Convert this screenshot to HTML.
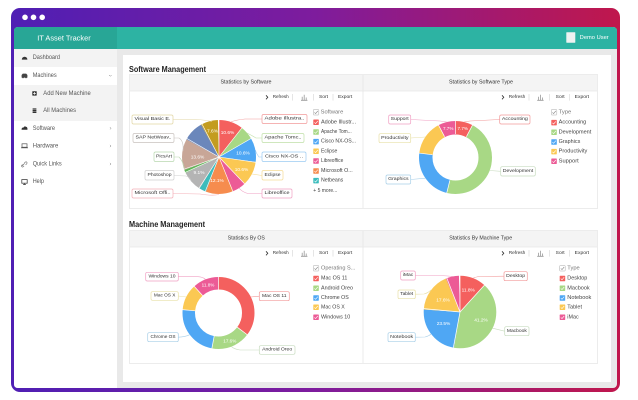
<!DOCTYPE html>
<html><head><meta charset="utf-8"><style>
html,body{margin:0;padding:0;background:#fff;width:638px;height:400px;overflow:hidden}
svg{display:block}
text{font-family:"Liberation Sans",sans-serif}
</style></head><body>
<svg width="638" height="400" viewBox="0 0 638 400" xmlns="http://www.w3.org/2000/svg">
<defs>
<linearGradient id="fr" x1="0" y1="0" x2="1" y2="0">
<stop offset="0" stop-color="#4f1fb4"/><stop offset="0.5" stop-color="#7e1c9d"/><stop offset="1" stop-color="#c0174c"/>
</linearGradient>
</defs>
<!-- frame -->
<rect x="11" y="8" width="609" height="384" rx="9" fill="url(#fr)"/>
<circle cx="25" cy="17.3" r="2.8" fill="#fff"/><circle cx="33.5" cy="17.3" r="2.8" fill="#fff"/><circle cx="42.2" cy="17.3" r="2.8" fill="#fff"/>
<rect x="14" y="27" width="603" height="361" rx="4" fill="#e9e9e9"/>
<!-- header -->
<path d="M18,27 H117 V49 H14 V31 Q14,27 18,27Z" fill="#28a696"/>
<path d="M117,27 H613 Q617,27 617,31 V49 H117Z" fill="#2db3a3"/>
<text x="37.3" y="38.2" font-size="7.6" fill="#fff" dominant-baseline="central" textLength="53.4" lengthAdjust="spacingAndGlyphs">IT Asset Tracker</text>
<rect x="566.3" y="32.3" width="9" height="10.4" fill="#eef2f1" rx="0.5"/>
<text x="579.7" y="38" font-size="5.6" fill="#fff" dominant-baseline="central" textLength="29" lengthAdjust="spacingAndGlyphs">Demo User</text>
<!-- sidebar -->
<path d="M14,49 H117 V388 H18 Q14,388 14,384Z" fill="#fff"/>
<rect x="14" y="49" width="103" height="18" fill="#f3f3f3"/>
<rect x="14" y="85" width="103" height="36" fill="#f3f3f3"/>
<g font-size="6.3" fill="#555" dominant-baseline="central">
<text x="32.7" y="57.7" textLength="27.3" lengthAdjust="spacingAndGlyphs">Dashboard</text>
<text x="32.7" y="75.7" textLength="24" lengthAdjust="spacingAndGlyphs">Machines</text>
<text x="43.3" y="93.3" textLength="47.4" lengthAdjust="spacingAndGlyphs">Add New Machine</text>
<text x="43.3" y="110.7" textLength="32.7" lengthAdjust="spacingAndGlyphs">All Machines</text>
<text x="32.7" y="128.3" textLength="22.3" lengthAdjust="spacingAndGlyphs">Software</text>
<text x="32.7" y="146" textLength="25.6" lengthAdjust="spacingAndGlyphs">Hardware</text>
<text x="32.7" y="164" textLength="29" lengthAdjust="spacingAndGlyphs">Quick Links</text>
<text x="32.7" y="181.7" textLength="11.3" lengthAdjust="spacingAndGlyphs">Help</text>
</g>
<!-- sidebar icons -->
<path d="M21.8,59.6 A2.8,2.8 0 1 1 27.4,59.6 Z" fill="#333"/>
<path d="M21.6,77.6 V75 L22.8,73.6 H26.2 L27.4,75 V77.6Z" fill="#444"/><circle cx="23" cy="77.6" r="0.7" fill="#444"/><circle cx="26" cy="77.6" r="0.7" fill="#444"/>
<rect x="32.3" y="91.2" width="4.4" height="4.4" fill="#333" rx="0.4"/><path d="M34.5,92 v2.8 M33.1,93.4 h2.8" stroke="#fff" stroke-width="0.7"/>
<path d="M32.6,109 h3.8 M32.6,110.7 h3.8 M32.6,112.4 h3.8" stroke="#333" stroke-width="1.3"/>
<path d="M21.6,129.8 Q21.4,127.3 23.6,127.5 Q24.4,125.8 26,126.8 Q27.8,127 27.4,129.8Z" fill="#333"/>
<rect x="22" y="143.8" width="5" height="3.4" fill="none" stroke="#555" stroke-width="0.7"/><path d="M21,147.8 h7" stroke="#555" stroke-width="0.8"/>
<path d="M22.2,166 l2.2,-2.4 M24,163.4 l1.2,-1.2 q0.9,-0.8 1.6,0 q0.7,0.7 0,1.5 l-1.2,1.2 M22.6,164.4 l-0.8,0.8 q-0.7,0.8 0,1.5 q0.7,0.7 1.5,0 l0.8,-0.8" stroke="#666" stroke-width="0.6" fill="none"/>
<rect x="21.8" y="179.6" width="5.4" height="3.6" fill="none" stroke="#444" stroke-width="0.8"/><path d="M24.5,183.2 v1.2 M23,184.6 h3" stroke="#444" stroke-width="0.7"/>
<path d="M109,75 l1.3,1.3 l1.3,-1.3" stroke="#777" stroke-width="0.5" fill="none"/>
<path d="M110,127.2 l1,1.1 l-1,1.1 M110,144.9 l1,1.1 l-1,1.1 M110,162.9 l1,1.1 l-1,1.1" stroke="#777" stroke-width="0.5" fill="none"/>
<!-- content -->
<rect x="123" y="55" width="488" height="327" fill="#fff"/>
<text x="129" y="69.3" font-size="8.2" font-weight="bold" fill="#222" dominant-baseline="central" textLength="77" lengthAdjust="spacingAndGlyphs">Software Management</text>
<text x="129" y="224.5" font-size="8.2" font-weight="bold" fill="#222" dominant-baseline="central" textLength="76" lengthAdjust="spacingAndGlyphs">Machine Management</text>
<!-- panels -->
<g fill="none" stroke="#e8e8e8" stroke-width="0.8">
<rect x="129.5" y="74.5" width="468" height="134" />
<rect x="129.5" y="230.5" width="468" height="133" />
</g>
<rect x="130" y="75" width="467" height="16" fill="#f4f4f4"/>
<rect x="130" y="231" width="467" height="16" fill="#f4f4f4"/>
<path d="M130,91 H597 M130,247 H597 M363,75 V208 M363,231 V363" stroke="#e6e6e6" stroke-width="0.8"/>
<g font-size="5.4" fill="#333" dominant-baseline="central" text-anchor="middle">
<text x="246" y="82.5" textLength="51" lengthAdjust="spacingAndGlyphs">Statistics by Software</text>
<text x="481" y="82.5" textLength="64" lengthAdjust="spacingAndGlyphs">Statistics by Software Type</text>
<text x="246.3" y="238.5" textLength="37" lengthAdjust="spacingAndGlyphs">Statistics By OS</text>
<text x="480.7" y="238.5" textLength="63" lengthAdjust="spacingAndGlyphs">Statistics By Machine Type</text>
</g>
<!-- toolbars -->
<g font-size="4.8" fill="#333" dominant-baseline="central">
<text x="272.7" y="97.3" textLength="16" lengthAdjust="spacingAndGlyphs">Refresh</text>
<text x="319" y="97.3" textLength="9" lengthAdjust="spacingAndGlyphs">Sort</text>
<text x="338" y="97.3" textLength="14.3" lengthAdjust="spacingAndGlyphs">Export</text>
<text x="508.7" y="97.3" textLength="16.6" lengthAdjust="spacingAndGlyphs">Refresh</text>
<text x="555.7" y="97.3" textLength="9" lengthAdjust="spacingAndGlyphs">Sort</text>
<text x="574.7" y="97.3" textLength="14.3" lengthAdjust="spacingAndGlyphs">Export</text>
<text x="272.7" y="253.3" textLength="16" lengthAdjust="spacingAndGlyphs">Refresh</text>
<text x="319" y="253.3" textLength="9" lengthAdjust="spacingAndGlyphs">Sort</text>
<text x="338" y="253.3" textLength="14.3" lengthAdjust="spacingAndGlyphs">Export</text>
<text x="508.7" y="253.3" textLength="16.6" lengthAdjust="spacingAndGlyphs">Refresh</text>
<text x="555.7" y="253.3" textLength="9" lengthAdjust="spacingAndGlyphs">Sort</text>
<text x="574.7" y="253.3" textLength="14.3" lengthAdjust="spacingAndGlyphs">Export</text>
</g>
<g stroke="#333" stroke-width="0.8" fill="none">
<path d="M266,95.3 l1.8,2 l-1.8,2 M502,95.3 l1.8,2 l-1.8,2 M266,251.3 l1.8,2 l-1.8,2 M502,251.3 l1.8,2 l-1.8,2"/>
</g>
<g stroke="#ccc" stroke-width="0.5">
<path d="M292.3,94 v6.6 M313.3,94 v6.6 M333,94 v6.6 M529,94 v6.6 M549.7,94 v6.6 M569.7,94 v6.6"/>
<path d="M292.3,250 v6.6 M313.3,250 v6.6 M333,250 v6.6 M529,250 v6.6 M549.7,250 v6.6 M569.7,250 v6.6"/>
</g>
<g stroke="#999" stroke-width="0.8" fill="none">
<path d="M301,100.3 h6.4 M302.2,100.3 v-3.6 M304.2,100.3 v-5.6 M306.2,100.3 v-2.8"/>
<path d="M537.2,100.3 h6.4 M538.4,100.3 v-3.6 M540.4,100.3 v-5.6 M542.4,100.3 v-2.8"/>
<path d="M301,256.3 h6.4 M302.2,256.3 v-3.6 M304.2,256.3 v-5.6 M306.2,256.3 v-2.8"/>
<path d="M537.2,256.3 h6.4 M538.4,256.3 v-3.6 M540.4,256.3 v-5.6 M542.4,256.3 v-2.8"/>
</g>

<!-- ============ Software pie ============ -->
<g transform="rotate(-90 219 157)" fill="none" stroke-width="37">
<circle cx="219" cy="157" r="18.5" pathLength="100" stroke="#f4605e" stroke-dasharray="10.606 100" stroke-dashoffset="0"/>
<circle cx="219" cy="157" r="18.5" pathLength="100" stroke="#a8d885" stroke-dasharray="6.061 100" stroke-dashoffset="-10.606"/>
<circle cx="219" cy="157" r="18.5" pathLength="100" stroke="#4fa7f4" stroke-dasharray="10.606 100" stroke-dashoffset="-16.667"/>
<circle cx="219" cy="157" r="18.5" pathLength="100" stroke="#fbc853" stroke-dasharray="10.606 100" stroke-dashoffset="-27.273"/>
<circle cx="219" cy="157" r="18.5" pathLength="100" stroke="#ec5b96" stroke-dasharray="6.061 100" stroke-dashoffset="-37.879"/>
<circle cx="219" cy="157" r="18.5" pathLength="100" stroke="#f68c4e" stroke-dasharray="12.121 100" stroke-dashoffset="-43.939"/>
<circle cx="219" cy="157" r="18.5" pathLength="100" stroke="#3bbcbc" stroke-dasharray="3.030 100" stroke-dashoffset="-56.061"/>
<circle cx="219" cy="157" r="18.5" pathLength="100" stroke="#b4b4b4" stroke-dasharray="9.091 100" stroke-dashoffset="-59.091"/>
<circle cx="219" cy="157" r="18.5" pathLength="100" stroke="#5fb558" stroke-dasharray="1.515 100" stroke-dashoffset="-68.182"/>
<circle cx="219" cy="157" r="18.5" pathLength="100" stroke="#c8a697" stroke-dasharray="13.636 100" stroke-dashoffset="-69.697"/>
<circle cx="219" cy="157" r="18.5" pathLength="100" stroke="#6b87bb" stroke-dasharray="9.091 100" stroke-dashoffset="-83.333"/>
<circle cx="219" cy="157" r="18.5" pathLength="100" stroke="#c39c1f" stroke-dasharray="7.576 100" stroke-dashoffset="-92.424"/>
</g>
<g stroke="#fff" stroke-width="0.6">
<line x1="219" y1="157" x2="219" y2="119.5" transform="rotate(0 219 157)"/>
<line x1="219" y1="157" x2="219" y2="119.5" transform="rotate(38.18 219 157)"/>
<line x1="219" y1="157" x2="219" y2="119.5" transform="rotate(60 219 157)"/>
<line x1="219" y1="157" x2="219" y2="119.5" transform="rotate(98.18 219 157)"/>
<line x1="219" y1="157" x2="219" y2="119.5" transform="rotate(136.36 219 157)"/>
<line x1="219" y1="157" x2="219" y2="119.5" transform="rotate(158.18 219 157)"/>
<line x1="219" y1="157" x2="219" y2="119.5" transform="rotate(201.82 219 157)"/>
<line x1="219" y1="157" x2="219" y2="119.5" transform="rotate(212.73 219 157)"/>
<line x1="219" y1="157" x2="219" y2="119.5" transform="rotate(245.45 219 157)"/>
<line x1="219" y1="157" x2="219" y2="119.5" transform="rotate(250.91 219 157)"/>
<line x1="219" y1="157" x2="219" y2="119.5" transform="rotate(300 219 157)"/>
<line x1="219" y1="157" x2="219" y2="119.5" transform="rotate(332.73 219 157)"/>
</g>
<g font-size="4.8" fill="#fff" text-anchor="middle" dominant-baseline="central">
<text x="227.5" y="133.4">10.6%</text>
<text x="243" y="154">10.6%</text>
<text x="241.5" y="170.5">10.6%</text>
<text x="217" y="181.5">12.1%</text>
<text x="199" y="173.5">9.1%</text>
<text x="197.5" y="158">13.6%</text>
<text x="212.5" y="131.8">7.6%</text>
</g>
<!-- connectors software -->
<g fill="none" stroke-width="0.6">
<path d="M173,119.5 L196,119.5 Q206,120 212,121.5" stroke="#e2d6a4"/>
<path d="M174,138 L179,138 Q184,141 183,151" stroke="#c9c2bf"/>
<path d="M174,157 L179,157 Q183,161 184.5,169" stroke="#b9d8b0"/>
<path d="M174,175.5 L186,176 Q190,177 191,181" stroke="#cfcfcf"/>
<path d="M173,193.5 L200,194 Q212,196 219,194.5" stroke="#f4b0b8"/>
<path d="M262,119 L245,119 Q235,120 231,122" stroke="#f29a9a"/>
<path d="M262,138 L256,138 Q251,135 247,133" stroke="#c0e0a8"/>
<path d="M262,157 L259,157 Q256,153 255.5,150" stroke="#9ccbf2"/>
<path d="M262,175.5 L252,174" stroke="#f5dc96"/>
<path d="M262,193.5 L248,193.5 Q242,192 239,188" stroke="#f0a0c4"/>
</g>
<g stroke-width="0.7" fill="#fff">
<rect x="132" y="115" width="41" height="9" rx="1.5" stroke="#e2d6a4"/>
<rect x="133" y="133.5" width="41" height="9" rx="1.5" stroke="#c9c2bf"/>
<rect x="154" y="152" width="20" height="9.5" rx="1.5" stroke="#b9d8b0"/>
<rect x="145" y="170.5" width="29" height="9.5" rx="1.5" stroke="#cfcfcf"/>
<rect x="132" y="189" width="41" height="9" rx="1.5" stroke="#f4b0b8"/>
<rect x="262" y="114.5" width="45" height="9" rx="1.5" stroke="#f29a9a"/>
<rect x="262" y="133.5" width="42" height="9" rx="1.5" stroke="#c0e0a8"/>
<rect x="262" y="152" width="44" height="9.5" rx="1.5" stroke="#9ccbf2"/>
<rect x="262" y="170.5" width="21" height="9.5" rx="1.5" stroke="#f5dc96"/>
<rect x="262" y="189" width="30" height="9" rx="1.5" stroke="#f0a0c4"/>
</g>
<g font-size="4.9" fill="#333" dominant-baseline="central" text-anchor="middle" lengthAdjust="spacingAndGlyphs">
<text x="152.5" y="119.6" textLength="36" lengthAdjust="spacingAndGlyphs">Visual Basic E.</text>
<text x="153.5" y="138.1" textLength="36" lengthAdjust="spacingAndGlyphs">SAP NetWeav..</text>
<text x="164" y="156.8" textLength="16" lengthAdjust="spacingAndGlyphs">PicsArt</text>
<text x="159.5" y="175.3" textLength="24" lengthAdjust="spacingAndGlyphs">Photoshop</text>
<text x="152.5" y="193.6" textLength="36" lengthAdjust="spacingAndGlyphs">Microsoft Offi..</text>
<text x="284.5" y="119.1" textLength="40" lengthAdjust="spacingAndGlyphs">Adobe Illustra..</text>
<text x="283" y="138.1" textLength="37" lengthAdjust="spacingAndGlyphs">Apache Tomc..</text>
<text x="284" y="156.8" textLength="38" lengthAdjust="spacingAndGlyphs">Cisco NX-OS ..</text>
<text x="272.5" y="175.3" textLength="16" lengthAdjust="spacingAndGlyphs">Eclipse</text>
<text x="277" y="193.6" textLength="25" lengthAdjust="spacingAndGlyphs">Libreoffice</text>
</g>
<!-- legend software -->
<g>
<rect x="313.3" y="109.5" width="5.5" height="5.5" rx="0.6" fill="#fff" stroke="#aaa" stroke-width="0.5"/>
<rect x="313.3" y="119.5" width="5.5" height="5.5" rx="0.6" fill="#f4605e"/>
<rect x="313.3" y="129.2" width="5.5" height="5.5" rx="0.6" fill="#a8d885"/>
<rect x="313.3" y="138.9" width="5.5" height="5.5" rx="0.6" fill="#4fa7f4"/>
<rect x="313.3" y="148.5" width="5.5" height="5.5" rx="0.6" fill="#fbc853"/>
<rect x="313.3" y="158.2" width="5.5" height="5.5" rx="0.6" fill="#ec5b96"/>
<rect x="313.3" y="168.2" width="5.5" height="5.5" rx="0.6" fill="#f68c4e"/>
<rect x="313.3" y="177.9" width="5.5" height="5.5" rx="0.6" fill="#3bbcbc"/>
</g>
<g fill="none" stroke="#fff" stroke-width="0.6">
<path d="M314.4,112.4 l1.2,1.2 l2.2,-2.6" stroke="#888"/>
<path d="M314.4,122.4 l1.2,1.2 l2.2,-2.6 M314.4,132.1 l1.2,1.2 l2.2,-2.6 M314.4,141.8 l1.2,1.2 l2.2,-2.6 M314.4,151.4 l1.2,1.2 l2.2,-2.6 M314.4,161.1 l1.2,1.2 l2.2,-2.6 M314.4,171.1 l1.2,1.2 l2.2,-2.6 M314.4,180.8 l1.2,1.2 l2.2,-2.6"/>
</g>
<g font-size="5.2" fill="#444" dominant-baseline="central">
<text x="320.7" y="112.3" fill="#777" textLength="22.6" lengthAdjust="spacingAndGlyphs">Software</text>
<text x="321" y="122.3" textLength="35" lengthAdjust="spacingAndGlyphs">Adobe Illustr...</text>
<text x="321" y="132" textLength="30.7" lengthAdjust="spacingAndGlyphs">Apache Tom...</text>
<text x="321" y="141.7" textLength="35" lengthAdjust="spacingAndGlyphs">Cisco NX-OS...</text>
<text x="321" y="151.3" textLength="16.3" lengthAdjust="spacingAndGlyphs">Eclipse</text>
<text x="321" y="161" textLength="22.3" lengthAdjust="spacingAndGlyphs">Libreoffice</text>
<text x="321" y="171" textLength="31.7" lengthAdjust="spacingAndGlyphs">Microsoft O...</text>
<text x="321" y="180.7" textLength="22.3" lengthAdjust="spacingAndGlyphs">Netbeans</text>
<text x="313.3" y="191" textLength="24" lengthAdjust="spacingAndGlyphs">+ 5 more...</text>
</g>

<!-- ============ Software type donut ============ -->
<g transform="rotate(-90 455.5 157.5)" fill="none" stroke-width="13.5">
<circle cx="455.5" cy="157.5" r="29.75" pathLength="100" stroke="#f4605e" stroke-dasharray="7.692 100" stroke-dashoffset="0"/>
<circle cx="455.5" cy="157.5" r="29.75" pathLength="100" stroke="#a8d885" stroke-dasharray="46.154 100" stroke-dashoffset="-7.692"/>
<circle cx="455.5" cy="157.5" r="29.75" pathLength="100" stroke="#4fa7f4" stroke-dasharray="23.077 100" stroke-dashoffset="-53.846"/>
<circle cx="455.5" cy="157.5" r="29.75" pathLength="100" stroke="#fbc853" stroke-dasharray="15.385 100" stroke-dashoffset="-76.923"/>
<circle cx="455.5" cy="157.5" r="29.75" pathLength="100" stroke="#ec5b96" stroke-dasharray="7.692 100" stroke-dashoffset="-92.308"/>
</g>
<g stroke="#fff" stroke-width="0.7">
<line x1="455.5" y1="134" x2="455.5" y2="120.5" transform="rotate(0 455.5 157.5)"/>
<line x1="455.5" y1="134" x2="455.5" y2="120.5" transform="rotate(27.69 455.5 157.5)"/>
<line x1="455.5" y1="134" x2="455.5" y2="120.5" transform="rotate(193.85 455.5 157.5)"/>
<line x1="455.5" y1="134" x2="455.5" y2="120.5" transform="rotate(276.92 455.5 157.5)"/>
<line x1="455.5" y1="134" x2="455.5" y2="120.5" transform="rotate(332.31 455.5 157.5)"/>
</g>
<g font-size="4.6" fill="#fff" text-anchor="middle" dominant-baseline="central">
<text x="462.8" y="128.5">7.7%</text>
<text x="448.2" y="128.5">7.7%</text>
</g>
<g fill="none" stroke-width="0.6">
<path d="M410.7,119.5 L440,121 L446.8,122" stroke="#f0a0c4"/>
<path d="M499.7,119.5 L470,121 L464,122" stroke="#f29a9a"/>
<path d="M410.7,138 L425.5,137" stroke="#e8e0a8"/>
<path d="M500.7,171.3 L489.6,170.5" stroke="#c8dcc0"/>
<path d="M410.7,179.5 L425.4,178.2" stroke="#a8cfe8"/>
</g>
<g stroke-width="0.7" fill="#fff">
<rect x="388.7" y="115" width="22" height="9" rx="1.5" stroke="#f0a0c4"/>
<rect x="499.7" y="115" width="30.3" height="9" rx="1.5" stroke="#f29a9a"/>
<rect x="379" y="133.7" width="31.7" height="9" rx="1.5" stroke="#e8e0a8"/>
<rect x="500.7" y="166.7" width="34.6" height="9.3" rx="1.5" stroke="#c8dcc0"/>
<rect x="386" y="175" width="24.7" height="9" rx="1.5" stroke="#a8cfe8"/>
</g>
<g font-size="4.9" fill="#333" dominant-baseline="central" text-anchor="middle">
<text x="399.7" y="119.6" textLength="18" lengthAdjust="spacingAndGlyphs">Support</text>
<text x="514.85" y="119.6" textLength="26" lengthAdjust="spacingAndGlyphs">Accounting</text>
<text x="394.85" y="138.3" textLength="27.5" lengthAdjust="spacingAndGlyphs">Productivity</text>
<text x="518" y="171.4" textLength="30.5" lengthAdjust="spacingAndGlyphs">Development</text>
<text x="398.35" y="179.6" textLength="20.5" lengthAdjust="spacingAndGlyphs">Graphics</text>
</g>
<g>
<rect x="551.3" y="109.5" width="5.5" height="5.5" rx="0.6" fill="#fff" stroke="#aaa" stroke-width="0.5"/>
<rect x="551.3" y="119.9" width="5.5" height="5.5" rx="0.6" fill="#f4605e"/>
<rect x="551.3" y="129.5" width="5.5" height="5.5" rx="0.6" fill="#a8d885"/>
<rect x="551.3" y="139.2" width="5.5" height="5.5" rx="0.6" fill="#4fa7f4"/>
<rect x="551.3" y="148.9" width="5.5" height="5.5" rx="0.6" fill="#fbc853"/>
<rect x="551.3" y="158.5" width="5.5" height="5.5" rx="0.6" fill="#ec5b96"/>
</g>
<g fill="none" stroke="#fff" stroke-width="0.6">
<path d="M552.4,112.4 l1.2,1.2 l2.2,-2.6" stroke="#888"/>
<path d="M552.4,122.8 l1.2,1.2 l2.2,-2.6 M552.4,132.4 l1.2,1.2 l2.2,-2.6 M552.4,142.1 l1.2,1.2 l2.2,-2.6 M552.4,151.8 l1.2,1.2 l2.2,-2.6 M552.4,161.4 l1.2,1.2 l2.2,-2.6"/>
</g>
<g font-size="5.2" fill="#444" dominant-baseline="central">
<text x="558.7" y="112.3" fill="#777" textLength="12.6" lengthAdjust="spacingAndGlyphs">Type</text>
<text x="558.7" y="122.7" textLength="27.6" lengthAdjust="spacingAndGlyphs">Accounting</text>
<text x="558.7" y="132.3" textLength="32.6" lengthAdjust="spacingAndGlyphs">Development</text>
<text x="558.7" y="142" textLength="21.6" lengthAdjust="spacingAndGlyphs">Graphics</text>
<text x="558.7" y="151.7" textLength="28.6" lengthAdjust="spacingAndGlyphs">Productivity</text>
<text x="558.7" y="161.3" textLength="20" lengthAdjust="spacingAndGlyphs">Support</text>
</g>

<!-- ============ OS donut ============ -->
<g transform="rotate(-90 218.5 313)" fill="none" stroke-width="12.5">
<circle cx="218.5" cy="313" r="29.75" pathLength="100" stroke="#f4605e" stroke-dasharray="35.294 100" stroke-dashoffset="0"/>
<circle cx="218.5" cy="313" r="29.75" pathLength="100" stroke="#a8d885" stroke-dasharray="17.647 100" stroke-dashoffset="-35.294"/>
<circle cx="218.5" cy="313" r="29.75" pathLength="100" stroke="#4fa7f4" stroke-dasharray="23.529 100" stroke-dashoffset="-52.941"/>
<circle cx="218.5" cy="313" r="29.75" pathLength="100" stroke="#fbc853" stroke-dasharray="11.765 100" stroke-dashoffset="-76.471"/>
<circle cx="218.5" cy="313" r="29.75" pathLength="100" stroke="#ec5b96" stroke-dasharray="11.765 100" stroke-dashoffset="-88.235"/>
</g>
<g stroke="#fff" stroke-width="0.7">
<line x1="218.5" y1="289.5" x2="218.5" y2="276.5" transform="rotate(0 218.5 313)"/>
<line x1="218.5" y1="289.5" x2="218.5" y2="276.5" transform="rotate(127.06 218.5 313)"/>
<line x1="218.5" y1="289.5" x2="218.5" y2="276.5" transform="rotate(190.59 218.5 313)"/>
<line x1="218.5" y1="289.5" x2="218.5" y2="276.5" transform="rotate(275.29 218.5 313)"/>
<line x1="218.5" y1="289.5" x2="218.5" y2="276.5" transform="rotate(317.65 218.5 313)"/>
</g>
<g font-size="4.6" fill="#fff" text-anchor="middle" dominant-baseline="central">
<text x="208" y="285.2">11.8%</text>
<text x="229.8" y="341.2">17.6%</text>
</g>
<g fill="none" stroke-width="0.6">
<path d="M178.3,276.7 L198,276.7 Q203,277 205.5,279.4" stroke="#f0a0c4"/>
<path d="M178.3,296 L186.3,297" stroke="#e8e0a8"/>
<path d="M178.3,337.2 Q185,337 189.8,334.7" stroke="#a8cfe8"/>
<path d="M259.3,296.2 L250.7,297" stroke="#f29a9a"/>
<path d="M259.3,350 L240,350 Q234,349 231.5,346.6" stroke="#c8dcc0"/>
</g>
<g stroke-width="0.7" fill="#fff">
<rect x="145.7" y="272.3" width="32.6" height="8.7" rx="1.5" stroke="#f0a0c4"/>
<rect x="151" y="291.7" width="27.3" height="8.6" rx="1.5" stroke="#e8e0a8"/>
<rect x="147.7" y="332.7" width="30.6" height="9" rx="1.5" stroke="#a8cfe8"/>
<rect x="259.3" y="291.7" width="30" height="9" rx="1.5" stroke="#f29a9a"/>
<rect x="259.3" y="345.7" width="35.7" height="8.6" rx="1.5" stroke="#c8dcc0"/>
</g>
<g font-size="4.9" fill="#333" dominant-baseline="central" text-anchor="middle">
<text x="162" y="276.8" textLength="27" lengthAdjust="spacingAndGlyphs">Windows 10</text>
<text x="164.65" y="296.1" textLength="21.5" lengthAdjust="spacingAndGlyphs">Mac OS X</text>
<text x="163" y="337.3" textLength="25" lengthAdjust="spacingAndGlyphs">Chrome OS</text>
<text x="274.3" y="296.3" textLength="24.5" lengthAdjust="spacingAndGlyphs">Mac OS 11</text>
<text x="277.15" y="350.1" textLength="30" lengthAdjust="spacingAndGlyphs">Android Oreo</text>
</g>
<g>
<rect x="313.3" y="265.5" width="5.5" height="5.5" rx="0.6" fill="#fff" stroke="#aaa" stroke-width="0.5"/>
<rect x="313.3" y="275.7" width="5.5" height="5.5" rx="0.6" fill="#f4605e"/>
<rect x="313.3" y="285.5" width="5.5" height="5.5" rx="0.6" fill="#a8d885"/>
<rect x="313.3" y="295.2" width="5.5" height="5.5" rx="0.6" fill="#4fa7f4"/>
<rect x="313.3" y="304.5" width="5.5" height="5.5" rx="0.6" fill="#fbc853"/>
<rect x="313.3" y="314.5" width="5.5" height="5.5" rx="0.6" fill="#ec5b96"/>
</g>
<g fill="none" stroke="#fff" stroke-width="0.6">
<path d="M314.4,268.4 l1.2,1.2 l2.2,-2.6" stroke="#888"/>
<path d="M314.4,278.6 l1.2,1.2 l2.2,-2.6 M314.4,288.4 l1.2,1.2 l2.2,-2.6 M314.4,298.1 l1.2,1.2 l2.2,-2.6 M314.4,307.4 l1.2,1.2 l2.2,-2.6 M314.4,317.4 l1.2,1.2 l2.2,-2.6"/>
</g>
<g font-size="5.2" fill="#444" dominant-baseline="central">
<text x="321" y="268.3" fill="#777" textLength="34.3" lengthAdjust="spacingAndGlyphs">Operating S...</text>
<text x="321" y="278.5" textLength="26.3" lengthAdjust="spacingAndGlyphs">Mac OS 11</text>
<text x="321" y="288.3" textLength="32" lengthAdjust="spacingAndGlyphs">Android Oreo</text>
<text x="321" y="298" textLength="27.7" lengthAdjust="spacingAndGlyphs">Chrome OS</text>
<text x="321" y="307.3" textLength="23.7" lengthAdjust="spacingAndGlyphs">Mac OS X</text>
<text x="321" y="317.3" textLength="29.3" lengthAdjust="spacingAndGlyphs">Windows 10</text>
</g>

<!-- ============ Machine type pie ============ -->
<g transform="rotate(-90 460 312)" fill="none" stroke-width="36.3">
<circle cx="460" cy="312" r="18.15" pathLength="100" stroke="#f4605e" stroke-dasharray="11.765 100" stroke-dashoffset="0"/>
<circle cx="460" cy="312" r="18.15" pathLength="100" stroke="#a8d885" stroke-dasharray="41.176 100" stroke-dashoffset="-11.765"/>
<circle cx="460" cy="312" r="18.15" pathLength="100" stroke="#4fa7f4" stroke-dasharray="23.529 100" stroke-dashoffset="-52.941"/>
<circle cx="460" cy="312" r="18.15" pathLength="100" stroke="#fbc853" stroke-dasharray="17.647 100" stroke-dashoffset="-76.471"/>
<circle cx="460" cy="312" r="18.15" pathLength="100" stroke="#ec5b96" stroke-dasharray="5.882 100" stroke-dashoffset="-94.118"/>
</g>
<g stroke="#fff" stroke-width="0.7">
<line x1="460" y1="312" x2="460" y2="275.5" transform="rotate(0 460 312)"/>
<line x1="460" y1="312" x2="460" y2="275.5" transform="rotate(42.35 460 312)"/>
<line x1="460" y1="312" x2="460" y2="275.5" transform="rotate(190.59 460 312)"/>
<line x1="460" y1="312" x2="460" y2="275.5" transform="rotate(275.29 460 312)"/>
<line x1="460" y1="312" x2="460" y2="275.5" transform="rotate(338.82 460 312)"/>
</g>
<g font-size="4.8" fill="#fff" text-anchor="middle" dominant-baseline="central">
<text x="468.2" y="290.8">11.8%</text>
<text x="481" y="321.2">41.2%</text>
<text x="443.5" y="324.5">23.5%</text>
<text x="443" y="301">17.6%</text>
</g>
<g fill="none" stroke-width="0.6">
<path d="M415.3,275.5 Q440,275 453.3,276.5" stroke="#f0a0c4"/>
<path d="M504,276.2 L480,276.5 Q475,277 473.1,278.2" stroke="#f29a9a"/>
<path d="M415.3,294.2 L424,294 Q428,293 431,290" stroke="#e8e0a8"/>
<path d="M415.3,337.2 L425,337 Q429,336 431,334" stroke="#a8cfe8"/>
<path d="M504.7,331.2 L492.5,328.2" stroke="#c8dcc0"/>
</g>
<g stroke-width="0.7" fill="#fff">
<rect x="400.7" y="271" width="14.6" height="9" rx="1.5" stroke="#f0a0c4"/>
<rect x="504" y="271.7" width="23.3" height="9" rx="1.5" stroke="#f29a9a"/>
<rect x="398" y="290" width="17.3" height="8.7" rx="1.5" stroke="#e8e0a8"/>
<rect x="388" y="332.7" width="27.3" height="9" rx="1.5" stroke="#a8cfe8"/>
<rect x="504.7" y="326.7" width="24.3" height="9" rx="1.5" stroke="#c8dcc0"/>
</g>
<g font-size="4.9" fill="#333" dominant-baseline="central" text-anchor="middle">
<text x="408" y="275.6" textLength="10.5" lengthAdjust="spacingAndGlyphs">iMac</text>
<text x="515.65" y="276.3" textLength="19" lengthAdjust="spacingAndGlyphs">Desktop</text>
<text x="406.65" y="294.4" textLength="13" lengthAdjust="spacingAndGlyphs">Tablet</text>
<text x="401.65" y="337.3" textLength="23" lengthAdjust="spacingAndGlyphs">Notebook</text>
<text x="516.85" y="331.3" textLength="20" lengthAdjust="spacingAndGlyphs">Macbook</text>
</g>
<g>
<rect x="559.7" y="265.5" width="5.5" height="5.5" rx="0.6" fill="#fff" stroke="#aaa" stroke-width="0.5"/>
<rect x="559.7" y="275.7" width="5.5" height="5.5" rx="0.6" fill="#f4605e"/>
<rect x="559.7" y="285.5" width="5.5" height="5.5" rx="0.6" fill="#a8d885"/>
<rect x="559.7" y="295.2" width="5.5" height="5.5" rx="0.6" fill="#4fa7f4"/>
<rect x="559.7" y="304.5" width="5.5" height="5.5" rx="0.6" fill="#fbc853"/>
<rect x="559.7" y="314.5" width="5.5" height="5.5" rx="0.6" fill="#ec5b96"/>
</g>
<g fill="none" stroke="#fff" stroke-width="0.6">
<path d="M560.8,268.4 l1.2,1.2 l2.2,-2.6" stroke="#888"/>
<path d="M560.8,278.6 l1.2,1.2 l2.2,-2.6 M560.8,288.4 l1.2,1.2 l2.2,-2.6 M560.8,298.1 l1.2,1.2 l2.2,-2.6 M560.8,307.4 l1.2,1.2 l2.2,-2.6 M560.8,317.4 l1.2,1.2 l2.2,-2.6"/>
</g>
<g font-size="5.2" fill="#444" dominant-baseline="central">
<text x="567.3" y="268.3" fill="#777" textLength="12.4" lengthAdjust="spacingAndGlyphs">Type</text>
<text x="567.3" y="278.5" textLength="20" lengthAdjust="spacingAndGlyphs">Desktop</text>
<text x="567.3" y="288.3" textLength="22.4" lengthAdjust="spacingAndGlyphs">Macbook</text>
<text x="567.3" y="298" textLength="24" lengthAdjust="spacingAndGlyphs">Notebook</text>
<text x="567.3" y="307.3" textLength="14.7" lengthAdjust="spacingAndGlyphs">Tablet</text>
<text x="567.3" y="317.3" textLength="11.4" lengthAdjust="spacingAndGlyphs">iMac</text>
</g>
</svg>
</body></html>
